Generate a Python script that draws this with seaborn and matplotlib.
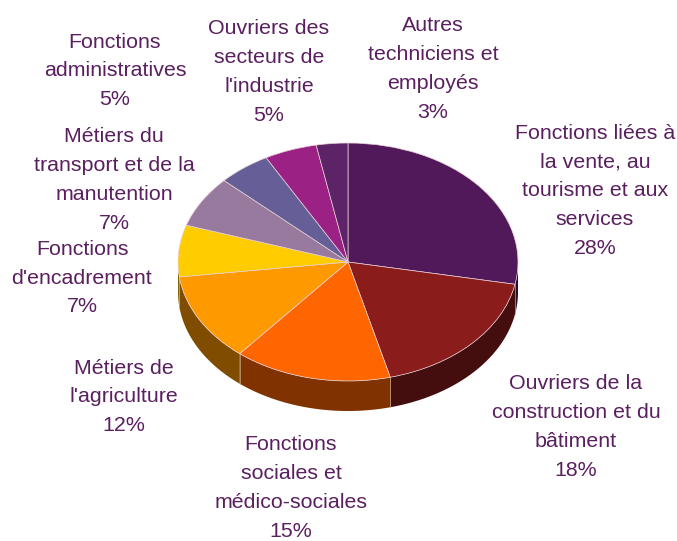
import numpy as np
import matplotlib
matplotlib.use("Agg")
import matplotlib.pyplot as plt
import seaborn as sns
from matplotlib.colors import to_rgb
from matplotlib.patches import Polygon

# data, clockwise from 12 o'clock
categories = [
    "Fonctions liées à\nla vente, au\ntourisme et aux\nservices",
    "Ouvriers de la\nconstruction et du\nbâtiment",
    "Fonctions\nsociales et\nmédico-sociales",
    "Métiers de\nl'agriculture",
    "Fonctions\nd'encadrement",
    "Métiers du\ntransport et de la\nmanutention",
    "Fonctions\nadministratives",
    "Ouvriers des\nsecteurs de\nl'industrie",
    "Autres\ntechniciens et\nemployés",
]
shares = [28, 18, 15, 12, 7, 7, 5, 5, 3]
colors = ["#52195A", "#8A1C1C", "#FF6600", "#FF9900", "#FFCC00",
          "#977A9E", "#665E96", "#9C2185", "#5C2466"]

# layout (pixels in the 677x541 image)
W, H = 677, 541
cx, cy = 348, 262          # pie centre
rx, ry = 170, 119          # ellipse radii
depth = 30                 # thickness of the pie
label_pos = [(595, 191), (576, 427), (291, 488), (124, 397), (82, 278),
             (114, 180), (115, 71), (269, 72), (433, 69)]
text_color = "#5A1F5F"

sns.set_theme(style="white")
plt.rcParams["font.family"] = ["Liberation Sans", "DejaVu Sans"]

fig = plt.figure(figsize=(W / 100, H / 100), dpi=100)
ax = fig.add_axes([0, 0, 1, 1])

wedges, _ = ax.pie(
    shares,
    colors=colors,
    startangle=90,
    counterclock=False,
    radius=1,
    wedgeprops=dict(edgecolor="#E8D0D8", linewidth=0.5, zorder=3),
)

# side of the pie (front half only)
d = depth / ry
fr = np.array(shares) / np.sum(shares)
ends = np.cumsum(fr)
starts = ends - fr
sides = []
for i in range(len(shares)):
    a = 90 - 360 * ends[i]
    b = 90 - 360 * starts[i]
    for k in (-1, 0, 1):
        lo = max(a, 180 + 360 * k)
        hi = min(b, 360 + 360 * k)
        if hi > lo:
            sides.append((i, lo, hi))

sides.sort(key=lambda s: -abs(((s[1] + s[2]) / 2) % 360 - 270))
for i, lo, hi in sides:
    t = np.radians(np.linspace(lo, hi, 80))
    top = np.column_stack([np.cos(t), np.sin(t)])
    bot = np.column_stack([np.cos(t[::-1]), np.sin(t[::-1]) - d])
    shade = tuple(np.array(to_rgb(colors[i])) * 0.5)
    ax.add_patch(Polygon(np.vstack([top, bot]), closed=True,
                         facecolor=shade, edgecolor="none", zorder=1))

# thin separators on the side at wedge boundaries
for e in ends:
    ang = (90 - 360 * e) % 360
    if 180 < ang < 360:
        x = np.cos(np.radians(ang))
        y = np.sin(np.radians(ang))
        ax.plot([x, x], [y, y - d], color="#C8A888", lw=0.5, zorder=2)

ax.set_aspect("auto")
ax.set_xlim(-cx / rx, (W - cx) / rx)
ax.set_ylim(-(H - cy) / ry, cy / ry)
ax.axis("off")

for name, s, (px, py) in zip(categories, shares, label_pos):
    fig.text(px / W, 1 - py / H, f"{name}\n{s}%",
             ha="center", va="center", fontsize=15.4,
             color=text_color, linespacing=1.65)

fig.savefig("out.png", dpi=100)
